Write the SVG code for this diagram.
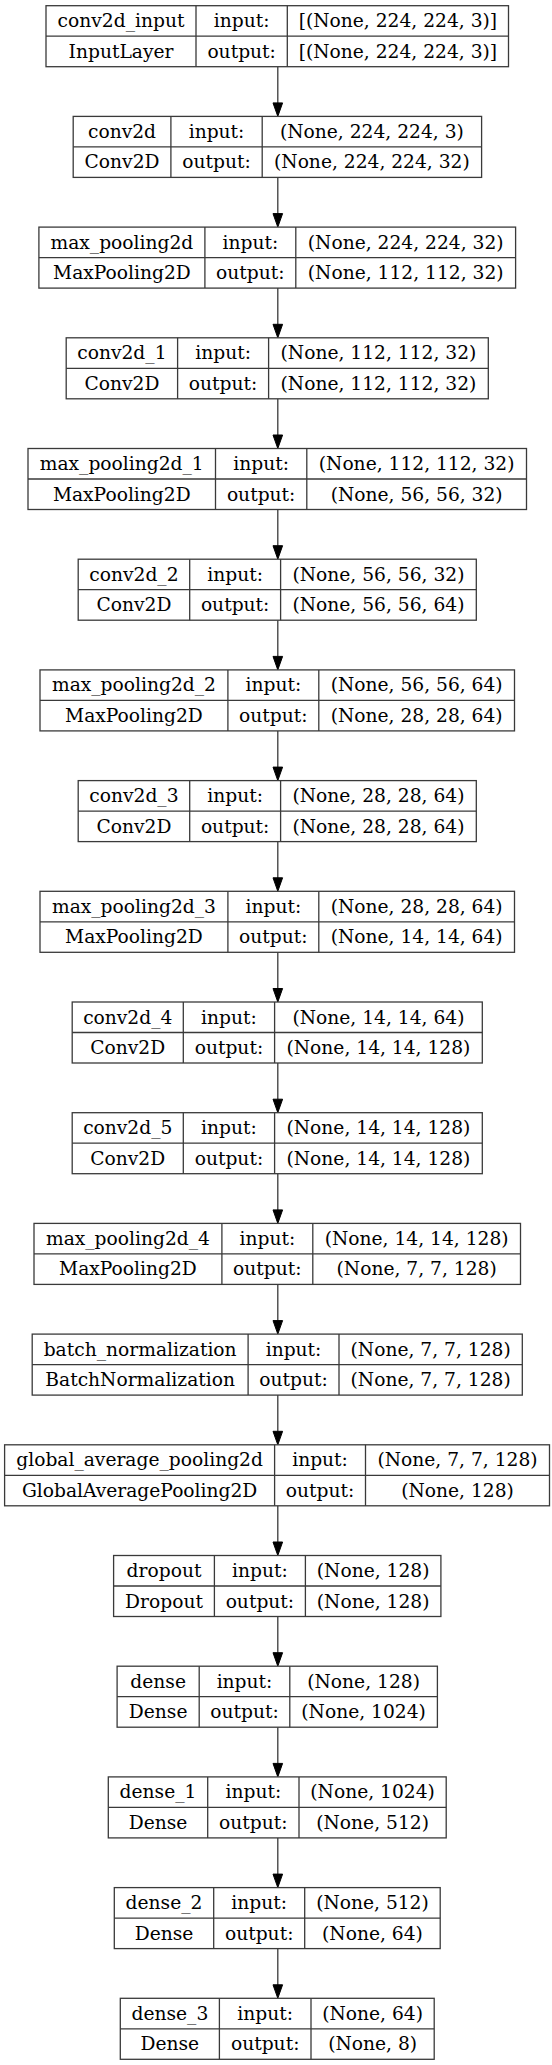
<svg xmlns="http://www.w3.org/2000/svg" width="552" height="2065" viewBox="0 0 552 2065">
<style>
.n rect{fill:#fff;stroke:#3a3a3a;stroke-width:1.3}
.n path{fill:none;stroke:#3a3a3a;stroke-width:1.3}
.n text{font-family:'DejaVu Serif',serif;font-size:18.67px;text-anchor:middle;fill:#000}
#edges path{fill:none;stroke:#3a3a3a;stroke-width:1.3}
#edges polygon{fill:#000;stroke:#000;stroke-width:1}
</style>
<rect width="552" height="2065" fill="#fff"/>
<g id="edges">
<path d="M277.8 66.7V103"/><polygon points="273,102.9 282.6,102.9 277.8,116.4"/>
<path d="M277.8 177.4V213.7"/><polygon points="273,213.6 282.6,213.6 277.8,227.1"/>
<path d="M277.8 288.1V324.4"/><polygon points="273,324.3 282.6,324.3 277.8,337.8"/>
<path d="M277.8 398.8V435.1"/><polygon points="273,435 282.6,435 277.8,448.5"/>
<path d="M277.8 509.5V545.8"/><polygon points="273,545.7 282.6,545.7 277.8,559.2"/>
<path d="M277.8 620.2V656.5"/><polygon points="273,656.4 282.6,656.4 277.8,669.9"/>
<path d="M277.8 730.9V767.2"/><polygon points="273,767.1 282.6,767.1 277.8,780.6"/>
<path d="M277.8 841.6V877.9"/><polygon points="273,877.8 282.6,877.8 277.8,891.3"/>
<path d="M277.8 952.3V988.6"/><polygon points="273,988.5 282.6,988.5 277.8,1002"/>
<path d="M277.8 1063V1099.3"/><polygon points="273,1099.2 282.6,1099.2 277.8,1112.7"/>
<path d="M277.8 1173.7V1210"/><polygon points="273,1209.9 282.6,1209.9 277.8,1223.4"/>
<path d="M277.8 1284.4V1320.7"/><polygon points="273,1320.6 282.6,1320.6 277.8,1334.1"/>
<path d="M277.8 1395.1V1431.4"/><polygon points="273,1431.3 282.6,1431.3 277.8,1444.8"/>
<path d="M277.8 1505.8V1542.1"/><polygon points="273,1542 282.6,1542 277.8,1555.5"/>
<path d="M277.8 1616.5V1652.8"/><polygon points="273,1652.7 282.6,1652.7 277.8,1666.2"/>
<path d="M277.8 1727.2V1763.5"/><polygon points="273,1763.4 282.6,1763.4 277.8,1776.9"/>
<path d="M277.8 1837.9V1874.2"/><polygon points="273,1874.1 282.6,1874.1 277.8,1887.6"/>
<path d="M277.8 1948.6V1984.9"/><polygon points="273,1984.8 282.6,1984.8 277.8,1998.3"/>
</g>
<g id="conv2d_input" class="n" transform="translate(0,5.7)">
<rect x="46" y="0" width="462.5" height="61"/><path d="M46 30.5H508.5M196 0V61M287.3 0V61"/>
<text x="121" y="21.5">conv2d_input</text><text x="121" y="52">InputLayer</text>
<text x="241.65" y="21.5">input:</text><text x="241.65" y="52">output:</text>
<text x="397.9" y="21.5">[(None, 224, 224, 3)]</text><text x="397.9" y="52">[(None, 224, 224, 3)]</text>
</g>
<g id="conv2d" class="n" transform="translate(0,116.4)">
<rect x="73.2" y="0" width="408.4" height="61"/><path d="M73.2 30.5H481.6M170.9 0V61M262.2 0V61"/>
<text x="122.05" y="21.5">conv2d</text><text x="122.05" y="52">Conv2D</text>
<text x="216.55" y="21.5">input:</text><text x="216.55" y="52">output:</text>
<text x="371.9" y="21.5">(None, 224, 224, 3)</text><text x="371.9" y="52">(None, 224, 224, 32)</text>
</g>
<g id="max_pooling2d" class="n" transform="translate(0,227.1)">
<rect x="38.9" y="0" width="476.7" height="61"/><path d="M38.9 30.5H515.6M204.9 0V61M295.8 0V61"/>
<text x="121.9" y="21.5">max_pooling2d</text><text x="121.9" y="52">MaxPooling2D</text>
<text x="250.35" y="21.5">input:</text><text x="250.35" y="52">output:</text>
<text x="405.7" y="21.5">(None, 224, 224, 32)</text><text x="405.7" y="52">(None, 112, 112, 32)</text>
</g>
<g id="conv2d_1" class="n" transform="translate(0,337.8)">
<rect x="66.2" y="0" width="422.1" height="61"/><path d="M66.2 30.5H488.3M177.6 0V61M268.6 0V61"/>
<text x="121.9" y="21.5">conv2d_1</text><text x="121.9" y="52">Conv2D</text>
<text x="223.1" y="21.5">input:</text><text x="223.1" y="52">output:</text>
<text x="378.45" y="21.5">(None, 112, 112, 32)</text><text x="378.45" y="52">(None, 112, 112, 32)</text>
</g>
<g id="max_pooling2d_1" class="n" transform="translate(0,448.5)">
<rect x="28" y="0" width="498.5" height="61"/><path d="M28 30.5H526.5M215.5 0V61M306.8 0V61"/>
<text x="121.75" y="21.5">max_pooling2d_1</text><text x="121.75" y="52">MaxPooling2D</text>
<text x="261.15" y="21.5">input:</text><text x="261.15" y="52">output:</text>
<text x="416.65" y="21.5">(None, 112, 112, 32)</text><text x="416.65" y="52">(None, 56, 56, 32)</text>
</g>
<g id="conv2d_2" class="n" transform="translate(0,559.2)">
<rect x="78.2" y="0" width="398.1" height="61"/><path d="M78.2 30.5H476.3M189.7 0V61M280.6 0V61"/>
<text x="133.95" y="21.5">conv2d_2</text><text x="133.95" y="52">Conv2D</text>
<text x="235.15" y="21.5">input:</text><text x="235.15" y="52">output:</text>
<text x="378.45" y="21.5">(None, 56, 56, 32)</text><text x="378.45" y="52">(None, 56, 56, 64)</text>
</g>
<g id="max_pooling2d_2" class="n" transform="translate(0,669.9)">
<rect x="40" y="0" width="474.5" height="61"/><path d="M40 30.5H514.5M227.9 0V61M318.8 0V61"/>
<text x="133.95" y="21.5">max_pooling2d_2</text><text x="133.95" y="52">MaxPooling2D</text>
<text x="273.35" y="21.5">input:</text><text x="273.35" y="52">output:</text>
<text x="416.65" y="21.5">(None, 56, 56, 64)</text><text x="416.65" y="52">(None, 28, 28, 64)</text>
</g>
<g id="conv2d_3" class="n" transform="translate(0,780.6)">
<rect x="78.2" y="0" width="398.1" height="61"/><path d="M78.2 30.5H476.3M189.7 0V61M280.6 0V61"/>
<text x="133.95" y="21.5">conv2d_3</text><text x="133.95" y="52">Conv2D</text>
<text x="235.15" y="21.5">input:</text><text x="235.15" y="52">output:</text>
<text x="378.45" y="21.5">(None, 28, 28, 64)</text><text x="378.45" y="52">(None, 28, 28, 64)</text>
</g>
<g id="max_pooling2d_3" class="n" transform="translate(0,891.3)">
<rect x="40" y="0" width="474.5" height="61"/><path d="M40 30.5H514.5M227.9 0V61M318.8 0V61"/>
<text x="133.95" y="21.5">max_pooling2d_3</text><text x="133.95" y="52">MaxPooling2D</text>
<text x="273.35" y="21.5">input:</text><text x="273.35" y="52">output:</text>
<text x="416.65" y="21.5">(None, 28, 28, 64)</text><text x="416.65" y="52">(None, 14, 14, 64)</text>
</g>
<g id="conv2d_4" class="n" transform="translate(0,1002)">
<rect x="72.2" y="0" width="410.1" height="61"/><path d="M72.2 30.5H482.3M183.3 0V61M274.6 0V61"/>
<text x="127.75" y="21.5">conv2d_4</text><text x="127.75" y="52">Conv2D</text>
<text x="228.95" y="21.5">input:</text><text x="228.95" y="52">output:</text>
<text x="378.45" y="21.5">(None, 14, 14, 64)</text><text x="378.45" y="52">(None, 14, 14, 128)</text>
</g>
<g id="conv2d_5" class="n" transform="translate(0,1112.7)">
<rect x="72.2" y="0" width="410.1" height="61"/><path d="M72.2 30.5H482.3M183.3 0V61M274.6 0V61"/>
<text x="127.75" y="21.5">conv2d_5</text><text x="127.75" y="52">Conv2D</text>
<text x="228.95" y="21.5">input:</text><text x="228.95" y="52">output:</text>
<text x="378.45" y="21.5">(None, 14, 14, 128)</text><text x="378.45" y="52">(None, 14, 14, 128)</text>
</g>
<g id="max_pooling2d_4" class="n" transform="translate(0,1223.4)">
<rect x="34" y="0" width="486.5" height="61"/><path d="M34 30.5H520.5M221.9 0V61M312.8 0V61"/>
<text x="127.95" y="21.5">max_pooling2d_4</text><text x="127.95" y="52">MaxPooling2D</text>
<text x="267.35" y="21.5">input:</text><text x="267.35" y="52">output:</text>
<text x="416.65" y="21.5">(None, 14, 14, 128)</text><text x="416.65" y="52">(None, 7, 7, 128)</text>
</g>
<g id="batch_normalization" class="n" transform="translate(0,1334.1)">
<rect x="32.2" y="0" width="490.1" height="61"/><path d="M32.2 30.5H522.3M248.1 0V61M339 0V61"/>
<text x="140.15" y="21.5">batch_normalization</text><text x="140.15" y="52">BatchNormalization</text>
<text x="293.55" y="21.5">input:</text><text x="293.55" y="52">output:</text>
<text x="430.65" y="21.5">(None, 7, 7, 128)</text><text x="430.65" y="52">(None, 7, 7, 128)</text>
</g>
<g id="global_average_pooling2d" class="n" transform="translate(0,1444.8)">
<rect x="4.6" y="0" width="544.9" height="61"/><path d="M4.6 30.5H549.5M274.6 0V61M365.5 0V61"/>
<text x="139.6" y="21.5">global_average_pooling2d</text><text x="139.6" y="52">GlobalAveragePooling2D</text>
<text x="320.05" y="21.5">input:</text><text x="320.05" y="52">output:</text>
<text x="457.5" y="21.5">(None, 7, 7, 128)</text><text x="457.5" y="52">(None, 128)</text>
</g>
<g id="dropout" class="n" transform="translate(0,1555.5)">
<rect x="113.6" y="0" width="327.3" height="61"/><path d="M113.6 30.5H440.9M214.4 0V61M305.4 0V61"/>
<text x="164" y="21.5">dropout</text><text x="164" y="52">Dropout</text>
<text x="259.9" y="21.5">input:</text><text x="259.9" y="52">output:</text>
<text x="373.15" y="21.5">(None, 128)</text><text x="373.15" y="52">(None, 128)</text>
</g>
<g id="dense" class="n" transform="translate(0,1666.2)">
<rect x="117.1" y="0" width="320.3" height="61"/><path d="M117.1 30.5H437.4M199.2 0V61M289.8 0V61"/>
<text x="158.15" y="21.5">dense</text><text x="158.15" y="52">Dense</text>
<text x="244.5" y="21.5">input:</text><text x="244.5" y="52">output:</text>
<text x="363.6" y="21.5">(None, 128)</text><text x="363.6" y="52">(None, 1024)</text>
</g>
<g id="dense_1" class="n" transform="translate(0,1776.9)">
<rect x="108.3" y="0" width="337.9" height="61"/><path d="M108.3 30.5H446.2M207.7 0V61M299 0V61"/>
<text x="158" y="21.5">dense_1</text><text x="158" y="52">Dense</text>
<text x="253.35" y="21.5">input:</text><text x="253.35" y="52">output:</text>
<text x="372.6" y="21.5">(None, 1024)</text><text x="372.6" y="52">(None, 512)</text>
</g>
<g id="dense_2" class="n" transform="translate(0,1887.6)">
<rect x="114.3" y="0" width="325.9" height="61"/><path d="M114.3 30.5H440.2M213.7 0V61M304.7 0V61"/>
<text x="164" y="21.5">dense_2</text><text x="164" y="52">Dense</text>
<text x="259.2" y="21.5">input:</text><text x="259.2" y="52">output:</text>
<text x="372.45" y="21.5">(None, 512)</text><text x="372.45" y="52">(None, 64)</text>
</g>
<g id="dense_3" class="n" transform="translate(0,1998.3)">
<rect x="120.3" y="0" width="313.9" height="61"/><path d="M120.3 30.5H434.2M219.4 0V61M311 0V61"/>
<text x="169.85" y="21.5">dense_3</text><text x="169.85" y="52">Dense</text>
<text x="265.2" y="21.5">input:</text><text x="265.2" y="52">output:</text>
<text x="372.6" y="21.5">(None, 64)</text><text x="372.6" y="52">(None, 8)</text>
</g>
</svg>
